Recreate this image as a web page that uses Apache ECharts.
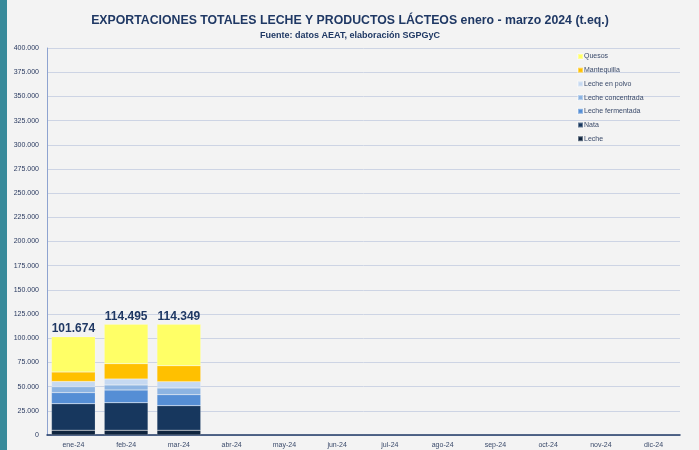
<!DOCTYPE html>
<html>
<head>
<meta charset="utf-8">
<script src="https://cdn.jsdelivr.net/npm/echarts@6/dist/echarts.min.js"></script>
<style>
  html, body { margin: 0; padding: 0; background: #f3f3f3; }
  #chart { width: 699px; height: 450px; }
</style>
</head>
<body>
<div id="chart"></div>
<script>
// meses
const months = ["ene-24", "feb-24", "mar-24", "abr-24", "may-24", "jun-24",
  "jul-24", "ago-24", "sep-24", "oct-24", "nov-24", "dic-24"];
// toneladas equivalentes por producto (solo ene-mar)
const leche = [5000, 5000, 5000];
const nata = [27300, 28300, 25300];
const lecheFermentada = [11500, 13200, 11400];
const lecheConcentrada = [6000, 5200, 6900];
const lechePolvo = [5500, 6200, 6500];
const mantequilla = [9800, 15800, 16500];
const quesos = [36574, 40795, 42749];
const totals = [101674, 114495, 114349];

const names = ["Leche", "Nata", "Leche fermentada", "Leche concentrada",
  "Leche en polvo", "Mantequilla", "Quesos"];
const values = [leche, nata, lecheFermentada, lecheConcentrada,
  lechePolvo, mantequilla, quesos];
const colors = ["#0f243e", "#17375e", "#558ed5", "#8db4e2",
  "#c6d9f1", "#ffc000", "#ffff66"];

const navy = "#1f3864";
const font = "'Liberation Sans Narrow', 'Liberation Sans', sans-serif";

// 400000 -> 400.000
function fmt(v) {
  return String(v).replace(/\B(?=(\d{3})+(?!\d))/g, ".");
}

const series = names.map((name, i) => ({
  name: name,
  type: "bar",
  stack: "total",
  barCategoryGap: "17%",
  data: values[i],
  itemStyle: { color: colors[i], borderColor: "rgba(255,255,255,0.35)", borderWidth: 0.5 },
  label: i === names.length - 1 ? {
    show: true,
    position: "top",
    distance: 2,
    formatter: (p) => fmt(totals[p.dataIndex]),
    fontFamily: font,
    fontWeight: "bold",
    fontSize: 12,
    color: navy,
  } : { show: false },
}));

const chart = echarts.init(document.getElementById("chart"));
chart.setOption({
  backgroundColor: "#f3f3f3",
  animation: false,
  textStyle: { fontFamily: font },
  graphic: [
    { type: "rect", left: 0, top: 0, shape: { width: 7, height: 450 }, style: { fill: "#388a9a" } },
  ],
  title: {
    text: "EXPORTACIONES TOTALES LECHE Y PRODUCTOS LÁCTEOS enero - marzo 2024 (t.eq.)",
    subtext: "Fuente: datos AEAT, elaboración SGPGyC",
    left: 345,
    textAlign: "center",
    top: 10,
    itemGap: 4,
    textStyle: { fontFamily: font, fontSize: 12.3, fontWeight: "bold", color: navy },
    subtextStyle: { fontFamily: font, fontSize: 9, fontWeight: "bold", color: navy },
  },
  legend: {
    orient: "vertical",
    left: 572,
    top: 48,
    itemWidth: 5,
    itemHeight: 5,
    itemGap: 6.7,
    icon: "rect",
    data: names.slice().reverse(),
    textStyle: { fontFamily: font, fontSize: 7, color: "#3a4a6a", padding: [0, 0, 0, -4] },
  },
  grid: { left: 47, right: 19, top: 48, bottom: 15 },
  xAxis: {
    type: "category",
    data: months,
    axisLine: { lineStyle: { color: navy, width: 1.5 } },
    axisTick: { show: false },
    axisLabel: { fontSize: 7, color: "#3a4a6a", margin: 7 },
  },
  yAxis: {
    type: "value",
    min: 0,
    max: 400000,
    interval: 25000,
    axisLine: { show: true, lineStyle: { color: "#8ea3d0" } },
    axisTick: { show: false },
    splitLine: { lineStyle: { color: "#cdd4e4" } },
    axisLabel: { fontSize: 7, color: "#2a3a60", margin: 8, formatter: (v) => fmt(v) },
  },
  series: series,
});
</script>
</body>
</html>
